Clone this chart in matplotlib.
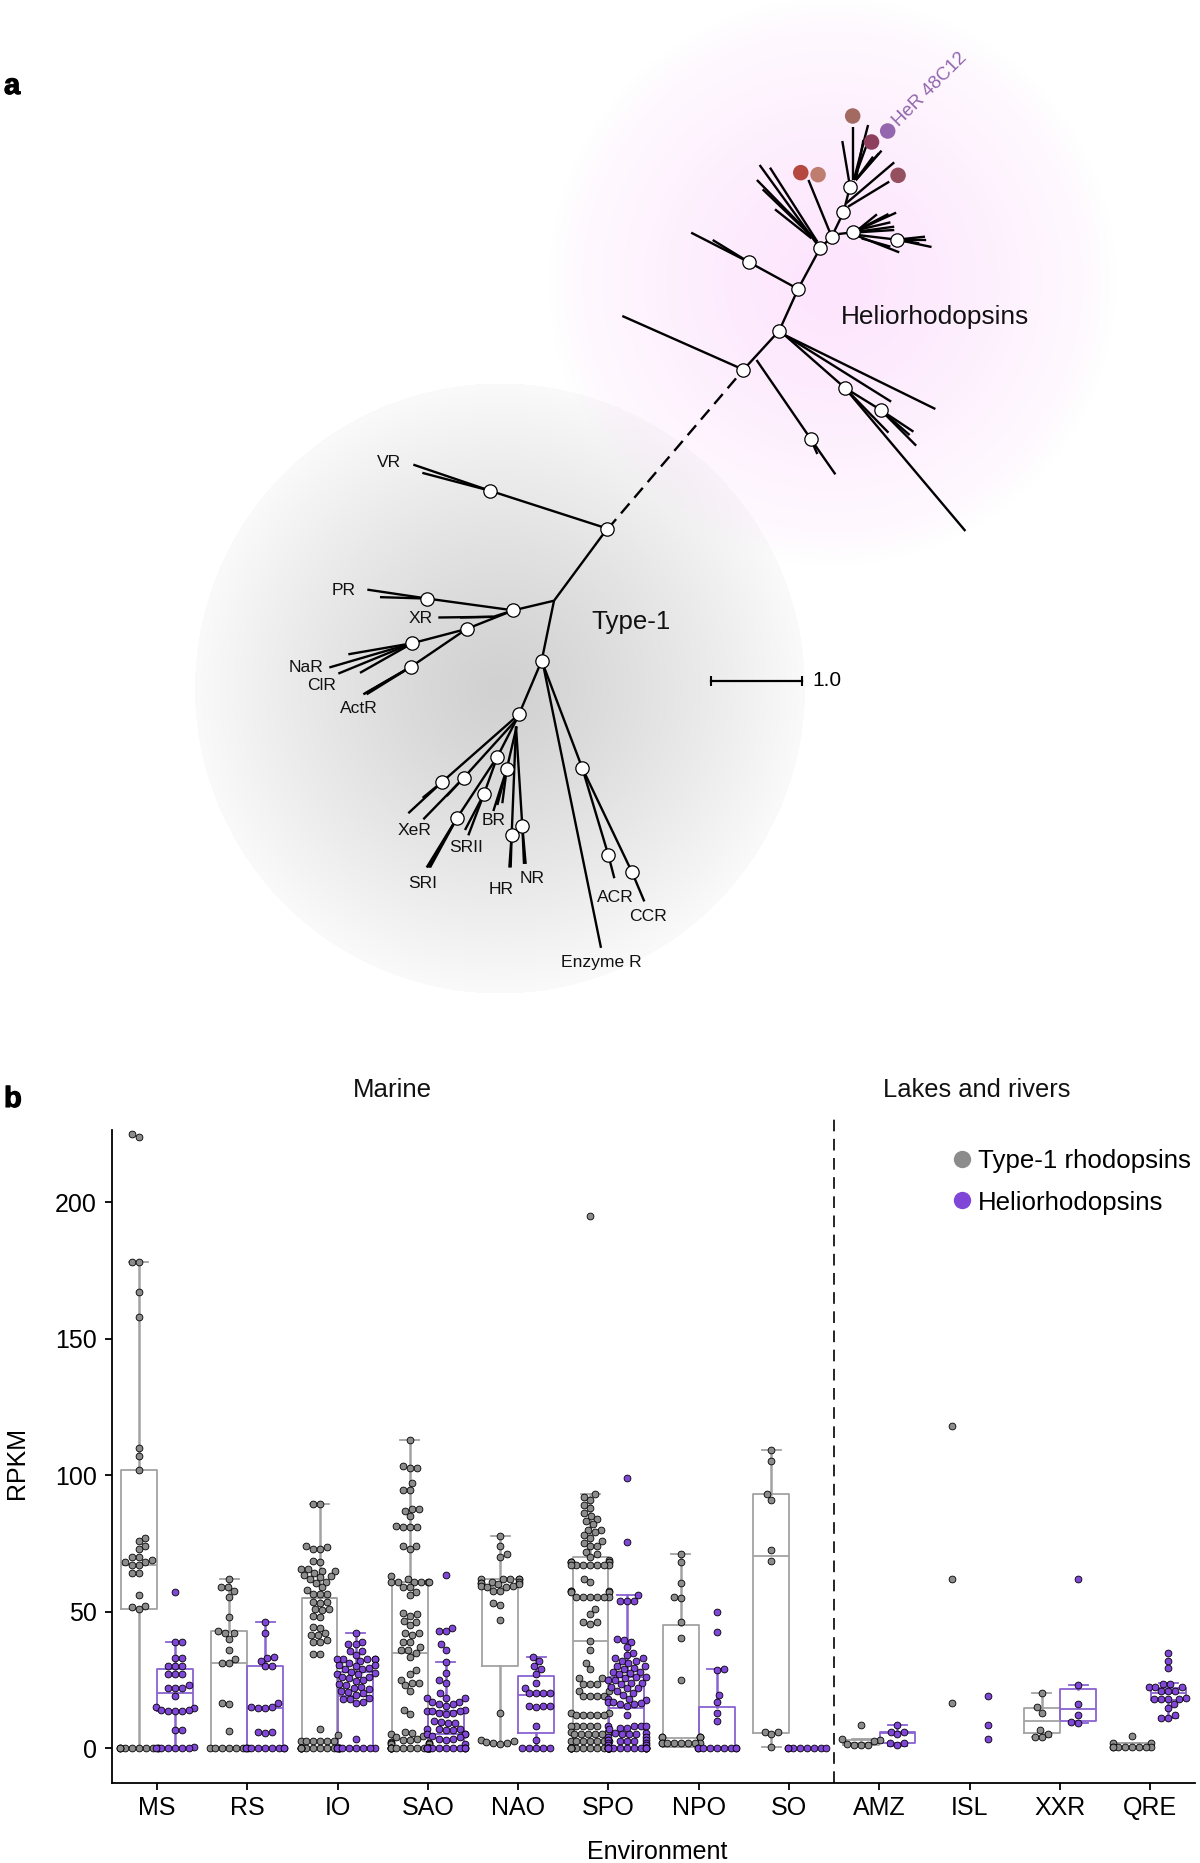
import numpy as np
import matplotlib
matplotlib.use("Agg")
import matplotlib.pyplot as plt
import matplotlib.patheffects as pe
from matplotlib.lines import Line2D

plt.rcParams['font.family'] = ['Liberation Sans', 'DejaVu Sans']

W, H = 1200, 1863

# ---------- panel a: tree drawn in two local layout systems ----------
helio_nodes_x = [503, 596, 645, 702, 732, 763, 780, 788, 902, 518, 766, 860, 678]
helio_nodes_y = [1019, 902, 777, 655, 621, 547, 470, 607, 629, 697, 1073, 1140, 1227]
helio_branches = [
    [(503, 1019), (188, 858)], [(503, 1019), (596, 902)],
    [(537, 990), (678, 1227), (742, 1333)], [(678, 1227), (695, 1272)],
    [(596, 902), (645, 777), (702, 655), (732, 621)],
    [(645, 777), (518, 697), (367, 608)], [(518, 697), (423, 630)],
    [(610, 915), (1002, 1137)], [(610, 915), (887, 1115)],
    [(610, 915), (766, 1073), (860, 1140), (945, 1205)],
    [(860, 1140), (952, 1247)], [(860, 1140), (935, 1215)],
    [(766, 1073), (1080, 1503)], [(766, 1073), (880, 1208)],
    [(702, 655), (545, 405)], [(695, 635), (572, 413)], [(695, 635), (538, 450)],
    [(690, 630), (553, 478)], [(680, 625), (585, 538)],
    [(727, 605), (672, 450)],
    [(732, 621), (763, 547), (780, 470)],
    [(770, 520), (895, 397)], [(775, 530), (882, 455)],
    [(780, 470), (760, 333)], [(787, 450), (787, 290)], [(790, 450), (827, 285)],
    [(795, 450), (815, 330)], [(795, 450), (862, 362)], [(795, 450), (840, 380)],
    [(795, 450), (855, 370)], [(790, 450), (825, 340)],
    [(750, 612), (788, 607)],
    [(800, 600), (900, 548)], [(800, 600), (850, 553)], [(800, 600), (885, 577)],
    [(800, 605), (895, 590)], [(800, 600), (880, 552)], [(800, 607), (895, 600)],
    [(800, 615), (902, 629)], [(800, 618), (908, 667)], [(810, 625), (885, 650)],
    [(902, 629), (992, 651)], [(902, 629), (975, 620)], [(902, 629), (978, 630)],
    [(902, 629), (960, 640)],
]
helio_dash = [(150, 1497), (503, 1019)]
tip_x = [787, 836, 878, 652, 697, 905]
tip_y = [258, 336, 303, 428, 434, 436]
tip_colors = ['#a36a62', '#8e3f5e', '#9466ad', '#b5493f', '#bf7d70', '#95505f']

type1_nodes_x = [1042, 690, 760, 502, 620, 457, 453, 845, 777, 547, 612, 712, 740, 672, 592, 755, 787, 967, 1045, 1116]
type1_nodes_y = [276, 170, 505, 472, 557, 597, 663, 646, 796, 985, 973, 915, 950, 1019, 1085, 1133, 1110, 947, 1190, 1238]
type1_branches = [
    [(1042, 276), (690, 170), (460, 97)], [(690, 170), (487, 120)],
    [(1042, 276), (882, 478), (760, 505), (502, 472), (322, 447)], [(502, 472), (360, 468)],
    [(882, 478), (845, 646), (777, 796)],
    [(760, 505), (700, 523), (535, 525)], [(700, 523), (600, 525)],
    [(760, 505), (620, 557), (457, 597), (265, 628)],
    [(457, 597), (208, 665)], [(457, 597), (235, 682)], [(457, 597), (300, 680)],
    [(620, 557), (453, 663), (310, 740)], [(453, 663), (320, 740)], [(453, 663), (315, 738)],
    [(777, 796), (547, 985), (445, 1073)], [(547, 985), (488, 1030)],
    [(770, 810), (612, 973), (490, 1090)], [(612, 973), (560, 1025)],
    [(770, 810), (712, 915), (592, 1085), (500, 1225)], [(592, 1085), (510, 1225)], [(592, 1085), (505, 1225)],
    [(712, 915), (672, 1019), (615, 1120)], [(672, 1019), (625, 1135)],
    [(770, 830), (740, 950), (700, 1067)], [(740, 950), (727, 1045)], [(740, 950), (712, 1050)],
    [(768, 830), (755, 1133), (748, 1225)], [(755, 1133), (752, 1225)],
    [(768, 830), (787, 1110), (797, 1215)], [(787, 1110), (792, 1215)],
    [(845, 646), (967, 947), (1045, 1190), (1063, 1255)],
    [(967, 947), (1116, 1238), (1153, 1320)],
    [(850, 660), (1023, 1450)],
]
type1_labels = ['VR', 'PR', 'XR', 'NaR', 'ClR', 'ActR', 'XeR', 'SRII', 'BR', 'SRI', 'HR', 'NR', 'ACR', 'CCR', 'Enzyme R']
type1_label_x = [388, 250, 483, 138, 186, 297, 465, 617, 700, 488, 723, 815, 1065, 1165, 1023]
type1_label_y = [92, 449, 527, 664, 714, 779, 1121, 1169, 1094, 1271, 1287, 1256, 1309, 1361, 1492]

scale_x = [711, 802]
scale_y = [681, 681]

# ---------- panel b data ----------
categories = ['MS', 'RS', 'IO', 'SAO', 'NAO', 'SPO', 'NPO', 'SO', 'AMZ', 'ISL', 'XXR', 'QRE']

grey_ms = [225, 224, 178, 178, 167, 158, 110, 107, 102, 77, 76, 74, 73, 70, 70, 69, 68, 68, 67, 67, 64, 64, 56, 52, 51.5, 51] + [0]*10
grey_rs = [62, 59, 59, 57.5, 55.5, 48, 43, 42, 42, 40, 36, 32.5, 31, 31, 16.5, 16, 6.3] + [0]*7
grey_io = [89.5, 89.5, 74, 73.5, 73, 73, 68.5, 68, 65.5, 65.5, 65, 65, 64, 63.5, 63, 62.5, 62, 61, 60.5, 59, 58, 56.5, 56.5, 56.5,
           53.5, 53.5, 53, 51, 51, 50.5, 48.5, 48, 44.5, 44, 42, 41.5, 41.5, 39.5, 39, 39, 34.5, 34.5, 7, 4.6] + [2.6]*6 + [0]*14
grey_sao = [113, 103.5, 102.5, 102.5, 97, 94.5, 94.5, 87.5, 87.5, 87, 85, 81.5, 81, 81, 81, 74, 74, 73, 63, 62, 61, 61, 61, 61, 61, 61,
            59, 59, 57, 56, 49.5, 49, 48.5, 46.5, 46, 45, 42, 42, 41.5, 39, 39, 37, 36, 36, 35, 33.5, 28.5, 27, 25, 24, 24, 23, 21,
            14, 12.5, 6, 5.5, 5, 4.5, 4, 3.5, 3, 3, 2.2, 2, 2, 1.8, 1.5, 1.5] + [0]*16
grey_nao = [77.5, 74, 71, 70, 62, 62, 62, 62, 62, 61, 61, 60.5, 60.5, 60, 60, 59.5, 59.5, 59, 59, 57.5, 57.5, 53, 52.5, 47, 12.7, 2.8, 2.6, 2.2, 2, 2, 1.6]
grey_spo = [195, 93, 92, 91, 89, 88, 86, 85, 84, 83, 82, 80, 80, 79, 78, 77, 76, 75, 74, 74, 72, 71, 70, 69, 68, 68, 68, 68, 68,
            67, 67, 67, 67, 67, 67, 67, 62, 61, 57.5, 57.5, 57.5, 57, 57, 55.5, 55.5, 55.5, 55.5, 55.5, 55.5, 51, 49, 46, 46, 45.5,
            39.3, 35.8, 31, 29, 25.5, 25.5, 23.5, 23.5, 23.5, 21, 21, 19, 19, 19, 19, 13, 13, 12, 12, 12, 12, 12,
            8, 8, 8, 8, 8, 6, 6, 6, 5, 5, 5, 5, 5, 2.6, 2.6, 2.6, 2.6, 2.6, 2.6, 2.6] + [0]*16
grey_npo = [71, 68, 60.5, 55.5, 55, 46, 40.4, 25, 4, 4, 4, 4, 4, 2, 2, 2, 2, 2, 2, 2, 2]
grey_so = [109, 105, 93, 91, 72.5, 68.5, 6, 6, 5, 0.5]
grey_amz = [8.5, 3.2, 2.9, 2.7, 1.5, 1, 1, 1]
grey_isl = [118, 62, 16.6]
grey_xxr = [20, 15, 13, 6.5, 5, 4, 4]
grey_qre = [4.5, 2, 2, 0.5, 0.3, 0.3, 0.3, 0.3, 0.3, 0.3, 0.3]

purple_ms = [57, 39, 39, 33, 33, 30, 30, 30, 27, 27, 27, 23, 22, 22, 22, 19, 15, 14.5, 14, 13.5, 13.5, 13.5, 14, 6.5, 6.5, 0.3] + [0]*6
purple_rs = [46, 42, 33.5, 33, 32, 30, 30, 16.5, 15, 14.6, 14.6, 15, 6, 6, 5.4] + [0]*9
purple_io = [42, 39, 38, 38, 35.5, 35.5, 34, 32.5, 32.5, 32.5, 32.5, 32.5, 32, 31, 30.5, 30.5, 30, 29.5, 29, 29, 28, 27.5, 27, 27,
             26, 26, 25.5, 25, 24.5, 23.5, 23, 22.5, 22, 21.5, 21, 20.5, 20, 19.5, 18.5, 18, 18, 17, 16.5, 3.4] + [0]*8
purple_sao = [63.5, 44, 43, 43, 38, 36, 31.5, 27.5, 25, 24, 20, 18.5, 18.5, 18.5, 17, 17, 16, 16, 15.5, 14, 13.5, 13.5, 13.5, 13, 13, 12.5,
              10, 9.5, 9, 9, 7, 7, 7, 6.5, 6.5, 5, 5, 5, 4.5, 4, 3.5, 3.5, 3, 1.5] + [0]*12
purple_nao = [33.5, 32, 30, 29, 27, 24, 22, 20, 20, 20, 20, 15.5, 15.5, 15.5, 15, 8, 3, 0, 0, 0, 0, 0]
purple_spo = [99, 75.5, 56, 54, 54, 54, 40, 39.7, 39, 37, 35, 34, 33, 33, 32, 32, 31, 30, 30, 29.5, 29, 28, 28, 27.5, 27, 26, 26, 25.5, 25, 25,
              24, 24, 23.5, 22.5, 22, 22, 21, 20, 19.5, 18, 18, 17.5, 17, 17, 16.5, 16, 16, 15.5, 12, 8, 8, 8, 8, 7.5, 7.5, 7, 5.5, 5.5, 5, 5, 5,
              4, 4, 3, 3, 3, 2.6, 2.6, 2.6, 2, 2, 1, 1] + [0]*16
purple_npo = [50, 42.5, 29, 28.5, 19.4, 17, 13, 10] + [0]*9
purple_so = [0]*8
purple_amz = [8.5, 6, 6, 5, 1.8, 1.8, 1]
purple_isl = [19, 8.5, 3.4]
purple_xxr = [62, 23, 16, 12, 9.5, 9.3]
purple_qre = [35, 32, 29.3, 23.5, 23.5, 22.2, 22.2, 22.2, 21, 21, 21, 18.5, 18, 18, 18, 18, 16, 14.6, 12, 11, 11]

grey_values = [grey_ms, grey_rs, grey_io, grey_sao, grey_nao, grey_spo, grey_npo, grey_so, grey_amz, grey_isl, grey_xxr, grey_qre]
purple_values = [purple_ms, purple_rs, purple_io, purple_sao, purple_nao, purple_spo, purple_npo, purple_so, purple_amz, purple_isl, purple_xxr, purple_qre]

# whislo, q1, med, q3, whishi (None = no box)
grey_boxes = [(0, 51, 67, 102, 178), (0, 0, 31, 43, 62), (0, 0, 55, 55, 89.5), (0, 0, 35, 61, 113),
              (1.5, 30, 59, 62, 77.5), (0, 0, 39.3, 70, 93), (0.5, 0.5, 3.7, 45, 71), (0.5, 5.5, 70.5, 93, 109),
              (1, 1, 2, 3, 3.2), None, (4, 5.4, 10, 14.5, 20), (0.3, 0.3, 0.5, 2, 2)]
purple_boxes = [(0, 13.5, 20.3, 29, 39), (0, 0, 14.6, 30, 46), (0, 0, 19, 28, 42), (0, 0, 5, 13.5, 31.5),
                (0, 5.5, 19.6, 26.5, 33.5), (0, 0, 14.5, 26, 56), (0, 0, 0, 15, 29), None,
                (0.7, 1.8, 5.5, 5.7, 8.5), None, (9, 10, 14.4, 21.5, 23), (11, 17.7, 20, 22, 24)]

GREY_LINE, GREY_FILL = '#a2a2a2', '#8c8c8c'
PURPLE_LINE, PURPLE_FILL = '#8a62d2', '#8046d8'

fig = plt.figure(figsize=(W/100, H/100), dpi=100, facecolor='white')

# ---------- glow backgrounds ----------
bg = fig.add_axes([0, 0, 1, 1], zorder=0)
bg.axis('off')
yy, xx = np.mgrid[0:H, 0:W]
r = np.hypot(xx - 499.5, yy - 688) / 305.0
grey = (209 + 41 * np.clip(r, 0, 1) ** 1.2) / 255.0
base = np.where(r <= 1, grey, 1.0)
img = np.repeat(base[..., None], 3, axis=2)
rp = np.hypot(xx - 832, yy - 281) / 284.0
a = np.clip(0.1 + 0.9 * (1 - np.clip(rp, 0, 1) ** 1.25), 0, 1) * np.clip((1 - rp) * 14, 0, 1)
tint = 1 - np.array([253, 229, 253]) / 255.0
img = img * (1 - a[..., None] * tint)
bg.imshow(img, extent=(0, W, H, 0), aspect='auto', interpolation='bilinear', zorder=0)
bg.set_xlim(0, W); bg.set_ylim(H, 0)

# scale bar and overlaid text in figure pixels
bg.plot(scale_x, scale_y, color='black', lw=1.6, marker='|', ms=6.5, mew=1.5, zorder=3)
bg.text(812, 680, '1.0', fontsize=15, ha='left', va='center', color='black', zorder=3)
stroke = [pe.withStroke(linewidth=0.8, foreground='black')]
bg.text(4, 86, 'a', fontsize=21, fontweight='bold', ha='left', va='center', zorder=3, path_effects=stroke)
bg.text(4, 1099, 'b', fontsize=21, fontweight='bold', ha='left', va='center', zorder=3, path_effects=stroke)


def tree_axes(px0, py0, px1, py1, xmax, ymax):
    ax = fig.add_axes([px0/W, 1 - py1/H, (px1-px0)/W, (py1-py0)/H], zorder=2)
    ax.set_xlim(0, xmax); ax.set_ylim(ymax, 0)
    ax.axis('off'); ax.patch.set_alpha(0)
    return ax


def draw_branches(ax, branches):
    for b in branches:
        xs, ys = zip(*b)
        ax.plot(xs, ys, color='black', lw=1.7, solid_capstyle='butt', clip_on=False, zorder=2)


# Heliorhodopsin side
hx = tree_axes(550, 30, 1150, 550, 1560, 1560)
draw_branches(hx, helio_branches)
hx.plot(*zip(*helio_dash), color='black', lw=1.7, ls=(0, (5.5, 3.2)), clip_on=False, zorder=2)
hx.plot(helio_nodes_x, helio_nodes_y, 'o', ms=9.6, mfc='white', mec='black', mew=0.9, zorder=3, clip_on=False)
hx.scatter(tip_x, tip_y, s=125, c=tip_colors, linewidths=0, zorder=4, clip_on=False)
hx.text(900, 282, 'HeR 48C12', color='#9166ad', fontsize=13.4, rotation=45, rotation_mode='anchor',
        ha='left', va='center', zorder=4)
hx.text(1002, 861, 'Heliorhodopsins', fontsize=18.9, ha='center', va='center', color='#111111', zorder=4)

# Type-1 side
tx = tree_axes(260, 430, 720, 990, 1380, 1568)
draw_branches(tx, type1_branches)
tx.plot(type1_nodes_x, type1_nodes_y, 'o', ms=9.6, mfc='white', mec='black', mew=0.9, zorder=3, clip_on=False)
for lab, lx, ly in zip(type1_labels, type1_label_x, type1_label_y):
    tx.text(lx, ly, lab, fontsize=12.6, ha='center', va='center', color='#111111', zorder=4)
tx.text(1112, 538, 'Type-1', fontsize=18.6, ha='center', va='center', color='#111111', zorder=4)

# ---------- panel b ----------
ax = fig.add_axes([112/W, 1 - 1783/H, (1195-112)/W, (1783-1130)/H], zorder=3)
ax.patch.set_alpha(0)
PX_X, PX_Y = 90.25, 2.73
ax.set_xlim(-0.498, 11.495)
ax.set_ylim(-12.8, 226.4)
ax.spines['top'].set_visible(False)
ax.spines['right'].set_visible(False)
for s in ('left', 'bottom'):
    ax.spines[s].set_linewidth(1.3)
ax.set_yticks([0, 50, 100, 150, 200])
ax.set_xticks(range(len(categories)))
ax.set_xticklabels(categories)
ax.tick_params(axis='both', length=5, width=1.3, labelsize=18)
ax.tick_params(axis='y', pad=6)
ax.tick_params(axis='x', pad=4.2)
ax.set_ylabel('RPKM', fontsize=18, va='center')
ax.yaxis.set_label_coords((17-112)/(1195-112), 1 - (1463-1130)/(1783-1130))
ax.set_xlabel('Environment', fontsize=18, va='center')
ax.xaxis.set_label_coords((657-112)/(1195-112), -(1852-1783)/(1783-1130))


def swarm(values, d=7.0, limit=19.0):
    """Beeswarm layout: horizontal offsets in data units."""
    order = np.argsort(values)
    ypx = np.asarray(values, float) * PX_Y
    out = np.zeros(len(values))
    placed = []
    candidates = sorted(np.arange(-60, 60.01, 0.5), key=lambda v: (abs(v), v))
    for n, i in enumerate(order):
        chosen = 0.0
        sign = 1 if n % 2 else -1
        for c in candidates:
            c = c * sign
            if all((c - px)**2 + (ypx[i] - py)**2 >= d*d for px, py in placed):
                chosen = c
                break
        chosen = float(np.clip(chosen, -limit, limit))
        placed.append((chosen, ypx[i]))
        out[i] = chosen / PX_X
    return out


def draw_group(values, boxes, shift, line, fill):
    stats, pos = [], []
    for k, b in enumerate(boxes):
        if b is None:
            continue
        stats.append(dict(whislo=b[0], q1=b[1], med=b[2], q3=b[3], whishi=b[4], fliers=[]))
        pos.append(k + shift)
    ax.bxp(stats, positions=pos, widths=0.395, capwidths=0.21, showfliers=False, manage_ticks=False,
           boxprops=dict(color=line, lw=1.3), medianprops=dict(color=line, lw=1.3),
           whiskerprops=dict(color=line, lw=1.8), capprops=dict(color=line, lw=1.3), zorder=2)
    for k, v in enumerate(values):
        xs = k + shift + swarm(v)
        ax.scatter(xs, v, s=24, c=fill, edgecolors='black', linewidths=0.6, zorder=3, clip_on=False)


draw_group(grey_values, grey_boxes, -0.2, GREY_LINE, GREY_FILL)
draw_group(purple_values, purple_boxes, 0.2, PURPLE_LINE, PURPLE_FILL)

ax.plot([7.5, 7.5], [0, 1.018], color='black', lw=1.2, ls=(0, (7, 4.5)),
        transform=ax.get_xaxis_transform(), clip_on=False, zorder=1)

handles = [Line2D([], [], ls='', marker='o', ms=12.5, mfc=GREY_FILL, mec='none'),
           Line2D([], [], ls='', marker='o', ms=12.5, mfc=PURPLE_FILL, mec='none')]
ax.legend(handles, ['Type-1 rhodopsins', 'Heliorhodopsins'], frameon=False, fontsize=18.6,
          loc='upper right', bbox_to_anchor=(0.9965, 0.971), borderaxespad=0, borderpad=0,
          handletextpad=0.15, labelspacing=0.68, handlelength=1.0, alignment='left')

bg.text(392, 1090, 'Marine', fontsize=18.6, ha='center', va='center', color='#111111', zorder=3)
bg.text(977, 1090, 'Lakes and rivers', fontsize=18.4, ha='center', va='center', color='#111111', zorder=3)

fig.savefig('out.png', dpi=100, facecolor='white')
